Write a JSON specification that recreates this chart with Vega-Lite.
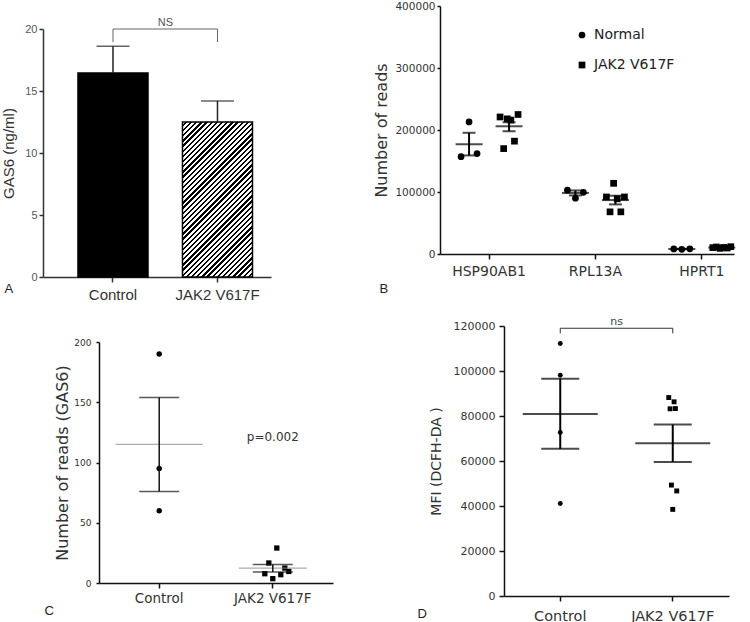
{
  "$schema": "https://vega.github.io/schema/vega-lite/v6.json",
  "padding": {"left": 1, "top": 1, "right": 5, "bottom": 0},
  "background": "white",
  "config": {
    "font": "DejaVu Sans",
    "view": {"stroke": null},
    "axis": {"grid": false, "domainWidth": 1.5, "tickWidth": 1.5, "domainColor": "#111", "tickColor": "#111", "labelColor": "#333", "titleColor": "#333", "titleFontWeight": "normal", "labelFont": "DejaVu Sans", "titleFont": "DejaVu Sans"}
  },
  "datasets": {
    "a_bars": [
      {"group": "Control", "mean": 16.45, "hi": 18.6},
      {"group": "JAK2 V617F", "mean": 12.5, "hi": 14.2}
    ],
    "a_sig": [{"group": "Control", "group2": "JAK2 V617F", "top": 20, "label": "NS"}],
    "a_drop": [
      {"group": "Control", "top": 20, "bottom": 18.95},
      {"group": "JAK2 V617F", "top": 20, "bottom": 18.95}
    ],
    "b_pts": [
      {"gene": "HSP90AB1", "group": "Normal", "sample": "N1", "reads": 157000},
      {"gene": "HSP90AB1", "group": "Normal", "sample": "N2", "reads": 213000},
      {"gene": "HSP90AB1", "group": "Normal", "sample": "N3", "reads": 162000},
      {"gene": "HSP90AB1", "group": "JAK2 V617F", "sample": "J1", "reads": 221000},
      {"gene": "HSP90AB1", "group": "JAK2 V617F", "sample": "J2", "reads": 170000},
      {"gene": "HSP90AB1", "group": "JAK2 V617F", "sample": "J3", "reads": 218000},
      {"gene": "HSP90AB1", "group": "JAK2 V617F", "sample": "J4", "reads": 216000},
      {"gene": "HSP90AB1", "group": "JAK2 V617F", "sample": "J5", "reads": 182000},
      {"gene": "HSP90AB1", "group": "JAK2 V617F", "sample": "J6", "reads": 225000},
      {"gene": "RPL13A", "group": "Normal", "sample": "N1", "reads": 103000},
      {"gene": "RPL13A", "group": "Normal", "sample": "N2", "reads": 90000},
      {"gene": "RPL13A", "group": "Normal", "sample": "N3", "reads": 99500},
      {"gene": "RPL13A", "group": "JAK2 V617F", "sample": "J1", "reads": 92000},
      {"gene": "RPL13A", "group": "JAK2 V617F", "sample": "J2", "reads": 68000},
      {"gene": "RPL13A", "group": "JAK2 V617F", "sample": "J3", "reads": 114000},
      {"gene": "RPL13A", "group": "JAK2 V617F", "sample": "J4", "reads": 89000},
      {"gene": "RPL13A", "group": "JAK2 V617F", "sample": "J5", "reads": 68000},
      {"gene": "RPL13A", "group": "JAK2 V617F", "sample": "J6", "reads": 92000},
      {"gene": "HPRT1", "group": "Normal", "sample": "N1", "reads": 8200},
      {"gene": "HPRT1", "group": "Normal", "sample": "N2", "reads": 7600},
      {"gene": "HPRT1", "group": "Normal", "sample": "N3", "reads": 8400},
      {"gene": "HPRT1", "group": "JAK2 V617F", "sample": "J1", "reads": 10200},
      {"gene": "HPRT1", "group": "JAK2 V617F", "sample": "J2", "reads": 11300},
      {"gene": "HPRT1", "group": "JAK2 V617F", "sample": "J3", "reads": 9100},
      {"gene": "HPRT1", "group": "JAK2 V617F", "sample": "J4", "reads": 10600},
      {"gene": "HPRT1", "group": "JAK2 V617F", "sample": "J5", "reads": 9600},
      {"gene": "HPRT1", "group": "JAK2 V617F", "sample": "J6", "reads": 11800}
    ],
    "b_sum": [
      {"gene": "HSP90AB1", "group": "Normal", "mean": 177000, "lo": 159000, "hi": 195500},
      {"gene": "HSP90AB1", "group": "JAK2 V617F", "mean": 206000, "lo": 198000, "hi": 212500},
      {"gene": "RPL13A", "group": "Normal", "mean": 98500, "lo": 94500, "hi": 102500},
      {"gene": "RPL13A", "group": "JAK2 V617F", "mean": 87000, "lo": 80000, "hi": 94000},
      {"gene": "HPRT1", "group": "Normal", "mean": 8100, "lo": 7800, "hi": 8400},
      {"gene": "HPRT1", "group": "JAK2 V617F", "mean": 10400, "lo": 10000, "hi": 10800}
    ],
    "c_pts": [
      {"group": "Control", "sample": "C1", "reads": 190},
      {"group": "Control", "sample": "C2", "reads": 95},
      {"group": "Control", "sample": "C3", "reads": 60},
      {"group": "JAK2 V617F", "sample": "S1", "reads": 7.7},
      {"group": "JAK2 V617F", "sample": "S2", "reads": 16.6},
      {"group": "JAK2 V617F", "sample": "S3", "reads": 3.6},
      {"group": "JAK2 V617F", "sample": "S4", "reads": 29},
      {"group": "JAK2 V617F", "sample": "S5", "reads": 6.9},
      {"group": "JAK2 V617F", "sample": "S6", "reads": 12.4},
      {"group": "JAK2 V617F", "sample": "S7", "reads": 9.6}
    ],
    "c_sum": [
      {"group": "Control", "mean": 115, "lo": 76, "hi": 154},
      {"group": "JAK2 V617F", "mean": 12.4, "lo": 9.1, "hi": 15.4}
    ],
    "c_note": [{"group": "JAK2 V617F", "y": 121.5, "label": "p=0.002"}],
    "d_pts": [
      {"group": "Control", "sample": "C1", "mfi": 112200},
      {"group": "Control", "sample": "C2", "mfi": 98100},
      {"group": "Control", "sample": "C3", "mfi": 72700},
      {"group": "Control", "sample": "C4", "mfi": 41100},
      {"group": "JAK2 V617F", "sample": "J1", "mfi": 88200},
      {"group": "JAK2 V617F", "sample": "J2", "mfi": 86300},
      {"group": "JAK2 V617F", "sample": "J3", "mfi": 83200},
      {"group": "JAK2 V617F", "sample": "J4", "mfi": 83300},
      {"group": "JAK2 V617F", "sample": "J5", "mfi": 49300},
      {"group": "JAK2 V617F", "sample": "J6", "mfi": 46700},
      {"group": "JAK2 V617F", "sample": "J7", "mfi": 38500}
    ],
    "d_sum": [
      {"group": "Control", "mean": 80900, "lo": 65400, "hi": 96600},
      {"group": "JAK2 V617F", "mean": 67900, "lo": 59600, "hi": 76200}
    ],
    "d_sig": [{"group": "Control", "group2": "JAK2 V617F", "top": 119000, "label": "ns"}],
    "d_drop": [
      {"group": "Control", "top": 119000, "bottom": 116700},
      {"group": "JAK2 V617F", "top": 119000, "bottom": 116700}
    ]
  },
  "spacing": 14,
  "vconcat": [
    {
      "spacing": 102,
      "hconcat": [
        {
          "spacing": 7,
          "vconcat": [
            {"width": 10, "height": 4, "data": {"values": []}, "mark": "point"},
            {
              "width": 228,
              "height": 248,
              "encoding": {
                "x": {"field": "group", "type": "nominal",
                  "scale": {"domain": ["Control", "JAK2 V617F"], "paddingInner": 0.33, "paddingOuter": 0.256, "align": 0.654},
                  "axis": {"title": "A", "titleX": -39, "titleY": 15, "titleAlign": "left", "titleBaseline": "alphabetic", "titleAngle": 0, "titleFont": "Liberation Sans", "titleFontSize": 13, "titleColor": "#222", "labelAngle": 0, "labelFont": "Liberation Sans", "labelFontSize": 15, "labelColor": "#333", "labelPadding": 5, "tickSize": 5, "domainColor": "#333", "tickColor": "#333"}},
                "y": {"field": "mean", "type": "quantitative",
                  "scale": {"domain": [0, 20], "nice": false},
                  "axis": {"title": "GAS6 (ng/ml)", "values": [0, 5, 10, 15, 20], "titleFont": "Liberation Sans", "titleFontSize": 15, "titleColor": "#333", "titlePadding": 8, "labelFont": "Liberation Sans", "labelFontSize": 11, "labelColor": "#555", "labelPadding": 2, "tickSize": 4, "domainColor": "#333", "tickColor": "#333"}}
              },
              "layer": [
                {"data": {"name": "a_bars"}, "transform": [{"filter": "datum.group === 'Control'"}],
                  "mark": {"type": "bar", "fill": "#000", "stroke": "#000", "strokeWidth": 1.5}},
                {"data": {"name": "a_bars"}, "transform": [{"filter": "datum.group !== 'Control'"}],
                  "mark": {"type": "bar", "stroke": "#000", "strokeWidth": 1.5,
                    "fill": {"gradient": "linear", "x1": 0, "y1": 0, "x2": 1, "y2": 2.214, "stops": [
{"offset":0,"color":"#fff"},{"offset":0.0069,"color":"#fff"},{"offset":0.0069,"color":"#000"},{"offset":0.0125,"color":"#000"},
{"offset":0.0125,"color":"#fff"},{"offset":0.0194,"color":"#fff"},{"offset":0.0194,"color":"#000"},{"offset":0.025,"color":"#000"},
{"offset":0.025,"color":"#fff"},{"offset":0.0319,"color":"#fff"},{"offset":0.0319,"color":"#000"},{"offset":0.0375,"color":"#000"},
{"offset":0.0375,"color":"#fff"},{"offset":0.0444,"color":"#fff"},{"offset":0.0444,"color":"#000"},{"offset":0.05,"color":"#000"},
{"offset":0.05,"color":"#fff"},{"offset":0.0569,"color":"#fff"},{"offset":0.0569,"color":"#000"},{"offset":0.0625,"color":"#000"},
{"offset":0.0625,"color":"#fff"},{"offset":0.0694,"color":"#fff"},{"offset":0.0694,"color":"#000"},{"offset":0.075,"color":"#000"},
{"offset":0.075,"color":"#fff"},{"offset":0.0819,"color":"#fff"},{"offset":0.0819,"color":"#000"},{"offset":0.0875,"color":"#000"},
{"offset":0.0875,"color":"#fff"},{"offset":0.0944,"color":"#fff"},{"offset":0.0944,"color":"#000"},{"offset":0.1,"color":"#000"},
{"offset":0.1,"color":"#fff"},{"offset":0.1069,"color":"#fff"},{"offset":0.1069,"color":"#000"},{"offset":0.1125,"color":"#000"},
{"offset":0.1125,"color":"#fff"},{"offset":0.1194,"color":"#fff"},{"offset":0.1194,"color":"#000"},{"offset":0.125,"color":"#000"},
{"offset":0.125,"color":"#fff"},{"offset":0.1319,"color":"#fff"},{"offset":0.1319,"color":"#000"},{"offset":0.1375,"color":"#000"},
{"offset":0.1375,"color":"#fff"},{"offset":0.1444,"color":"#fff"},{"offset":0.1444,"color":"#000"},{"offset":0.15,"color":"#000"},
{"offset":0.15,"color":"#fff"},{"offset":0.1569,"color":"#fff"},{"offset":0.1569,"color":"#000"},{"offset":0.1625,"color":"#000"},
{"offset":0.1625,"color":"#fff"},{"offset":0.1694,"color":"#fff"},{"offset":0.1694,"color":"#000"},{"offset":0.175,"color":"#000"},
{"offset":0.175,"color":"#fff"},{"offset":0.1819,"color":"#fff"},{"offset":0.1819,"color":"#000"},{"offset":0.1875,"color":"#000"},
{"offset":0.1875,"color":"#fff"},{"offset":0.1944,"color":"#fff"},{"offset":0.1944,"color":"#000"},{"offset":0.2,"color":"#000"},
{"offset":0.2,"color":"#fff"},{"offset":0.2069,"color":"#fff"},{"offset":0.2069,"color":"#000"},{"offset":0.2125,"color":"#000"},
{"offset":0.2125,"color":"#fff"},{"offset":0.2194,"color":"#fff"},{"offset":0.2194,"color":"#000"},{"offset":0.225,"color":"#000"},
{"offset":0.225,"color":"#fff"},{"offset":0.2319,"color":"#fff"},{"offset":0.2319,"color":"#000"},{"offset":0.2375,"color":"#000"},
{"offset":0.2375,"color":"#fff"},{"offset":0.2444,"color":"#fff"},{"offset":0.2444,"color":"#000"},{"offset":0.25,"color":"#000"},
{"offset":0.25,"color":"#fff"},{"offset":0.2569,"color":"#fff"},{"offset":0.2569,"color":"#000"},{"offset":0.2625,"color":"#000"},
{"offset":0.2625,"color":"#fff"},{"offset":0.2694,"color":"#fff"},{"offset":0.2694,"color":"#000"},{"offset":0.275,"color":"#000"},
{"offset":0.275,"color":"#fff"},{"offset":0.2819,"color":"#fff"},{"offset":0.2819,"color":"#000"},{"offset":0.2875,"color":"#000"},
{"offset":0.2875,"color":"#fff"},{"offset":0.2944,"color":"#fff"},{"offset":0.2944,"color":"#000"},{"offset":0.3,"color":"#000"},
{"offset":0.3,"color":"#fff"},{"offset":0.3069,"color":"#fff"},{"offset":0.3069,"color":"#000"},{"offset":0.3125,"color":"#000"},
{"offset":0.3125,"color":"#fff"},{"offset":0.3194,"color":"#fff"},{"offset":0.3194,"color":"#000"},{"offset":0.325,"color":"#000"},
{"offset":0.325,"color":"#fff"},{"offset":0.3319,"color":"#fff"},{"offset":0.3319,"color":"#000"},{"offset":0.3375,"color":"#000"},
{"offset":0.3375,"color":"#fff"},{"offset":0.3444,"color":"#fff"},{"offset":0.3444,"color":"#000"},{"offset":0.35,"color":"#000"},
{"offset":0.35,"color":"#fff"},{"offset":0.3569,"color":"#fff"},{"offset":0.3569,"color":"#000"},{"offset":0.3625,"color":"#000"},
{"offset":0.3625,"color":"#fff"},{"offset":0.3694,"color":"#fff"},{"offset":0.3694,"color":"#000"},{"offset":0.375,"color":"#000"},
{"offset":0.375,"color":"#fff"},{"offset":0.3819,"color":"#fff"},{"offset":0.3819,"color":"#000"},{"offset":0.3875,"color":"#000"},
{"offset":0.3875,"color":"#fff"},{"offset":0.3944,"color":"#fff"},{"offset":0.3944,"color":"#000"},{"offset":0.4,"color":"#000"},
{"offset":0.4,"color":"#fff"},{"offset":0.4069,"color":"#fff"},{"offset":0.4069,"color":"#000"},{"offset":0.4125,"color":"#000"},
{"offset":0.4125,"color":"#fff"},{"offset":0.4194,"color":"#fff"},{"offset":0.4194,"color":"#000"},{"offset":0.425,"color":"#000"},
{"offset":0.425,"color":"#fff"},{"offset":0.4319,"color":"#fff"},{"offset":0.4319,"color":"#000"},{"offset":0.4375,"color":"#000"},
{"offset":0.4375,"color":"#fff"},{"offset":0.4444,"color":"#fff"},{"offset":0.4444,"color":"#000"},{"offset":0.45,"color":"#000"},
{"offset":0.45,"color":"#fff"},{"offset":0.4569,"color":"#fff"},{"offset":0.4569,"color":"#000"},{"offset":0.4625,"color":"#000"},
{"offset":0.4625,"color":"#fff"},{"offset":0.4694,"color":"#fff"},{"offset":0.4694,"color":"#000"},{"offset":0.475,"color":"#000"},
{"offset":0.475,"color":"#fff"},{"offset":0.4819,"color":"#fff"},{"offset":0.4819,"color":"#000"},{"offset":0.4875,"color":"#000"},
{"offset":0.4875,"color":"#fff"},{"offset":0.4944,"color":"#fff"},{"offset":0.4944,"color":"#000"},{"offset":0.5,"color":"#000"},
{"offset":0.5,"color":"#fff"},{"offset":0.5069,"color":"#fff"},{"offset":0.5069,"color":"#000"},{"offset":0.5125,"color":"#000"},
{"offset":0.5125,"color":"#fff"},{"offset":0.5194,"color":"#fff"},{"offset":0.5194,"color":"#000"},{"offset":0.525,"color":"#000"},
{"offset":0.525,"color":"#fff"},{"offset":0.5319,"color":"#fff"},{"offset":0.5319,"color":"#000"},{"offset":0.5375,"color":"#000"},
{"offset":0.5375,"color":"#fff"},{"offset":0.5444,"color":"#fff"},{"offset":0.5444,"color":"#000"},{"offset":0.55,"color":"#000"},
{"offset":0.55,"color":"#fff"},{"offset":0.5569,"color":"#fff"},{"offset":0.5569,"color":"#000"},{"offset":0.5625,"color":"#000"}
                    ]}}},
                {"data": {"name": "a_bars"}, "mark": {"type": "rule", "color": "#222", "strokeWidth": 1.5},
                  "encoding": {"y": {"field": "mean", "type": "quantitative"}, "y2": {"field": "hi"}}},
                {"data": {"name": "a_bars"}, "mark": {"type": "tick", "color": "#222", "thickness": 1.5, "size": 33},
                  "encoding": {"y": {"field": "hi", "type": "quantitative"}}},
                {"data": {"name": "a_drop"}, "mark": {"type": "rule", "color": "#666", "strokeWidth": 1},
                  "encoding": {"y": {"field": "bottom", "type": "quantitative"}, "y2": {"field": "top"}}},
                {"data": {"name": "a_sig"}, "mark": {"type": "rule", "color": "#666", "strokeWidth": 1},
                  "encoding": {"y": {"field": "top", "type": "quantitative"}, "x2": {"field": "group2"}}},
                {"data": {"name": "a_sig"}, "mark": {"type": "text", "font": "Liberation Sans", "fontSize": 11, "color": "#555", "baseline": "bottom", "dy": -1},
                  "encoding": {"x": {"field": "group", "type": "nominal", "bandPosition": 1.25}, "y": {"field": "top", "type": "quantitative"}, "text": {"field": "label"}}}
              ]
            }
          ]
        },
        {
          "width": 294,
          "height": 248,
          "encoding": {
            "x": {"field": "gene", "type": "nominal",
              "scale": {"domain": ["HSP90AB1", "RPL13A", "HPRT1"], "paddingInner": 0.5, "paddingOuter": 0.132, "align": 0.8},
              "axis": {"title": "B", "titleX": -61, "titleY": 38, "titleAlign": "left", "titleBaseline": "alphabetic", "titleAngle": 0, "titleFont": "Liberation Sans", "titleFontSize": 13, "titleColor": "#222", "labelAngle": 0, "labelFontSize": 14, "labelPadding": 5, "tickSize": 5}},
            "y": {"field": "reads", "type": "quantitative",
              "scale": {"domain": [0, 400000], "nice": false},
              "axis": {"title": "Number of reads", "values": [0, 100000, 200000, 300000, 400000], "format": "d", "labelFontSize": 10.5, "tickSize": 3, "labelPadding": 2, "titleFontSize": 16, "titlePadding": 5}}
          },
          "layer": [
            {"data": {"name": "b_pts"}, "transform": [{"filter": "datum.group === 'Normal'"}],
              "mark": {"type": "point", "filled": true, "color": "#000", "size": 45, "opacity": 1},
              "encoding": {
                "xOffset": {"field": "sample", "type": "nominal", "scale": {"type": "point", "domain": ["N1", "N2", "N3"], "range": [-1.4, 14.6], "padding": 0}},
                "shape": {"field": "group", "type": "nominal", "scale": {"domain": ["Normal", "JAK2 V617F"], "range": ["circle", "square"]},
                  "legend": {"orient": "none", "legendX": 532, "legendY": 22, "title": null, "labelFontSize": 14, "labelColor": "#222", "symbolSize": 45, "symbolFillColor": "#000", "symbolStrokeColor": "#000", "rowPadding": 16, "labelOffset": 5, "padding": 0}}
              }},
            {"data": {"name": "b_pts"}, "transform": [{"filter": "datum.group !== 'Normal'"}],
              "mark": {"type": "point", "filled": true, "color": "#000", "size": 45, "opacity": 1},
              "encoding": {
                "xOffset": {"field": "sample", "type": "nominal", "scale": {"type": "point", "domain": ["J1", "J2", "J3", "J4", "J5", "J6"], "range": [37.6, 55.6], "padding": 0}},
                "shape": {"field": "group", "type": "nominal"}
              }},
            {"data": {"name": "b_sum"}, "mark": {"type": "tick", "color": "#000", "thickness": 2, "size": 27},
              "encoding": {"xOffset": {"field": "group", "type": "nominal", "scale": {"type": "point", "domain": ["Normal", "JAK2 V617F"], "range": [6.6, 46.6], "padding": 0}}, "y": {"field": "mean", "type": "quantitative"}}},
            {"data": {"name": "b_sum"}, "mark": {"type": "rule", "color": "#000", "strokeWidth": 2},
              "encoding": {"xOffset": {"field": "group", "type": "nominal", "scale": {"type": "point", "domain": ["Normal", "JAK2 V617F"], "range": [6.6, 46.6], "padding": 0}}, "y": {"field": "lo", "type": "quantitative"}, "y2": {"field": "hi"}}},
            {"data": {"name": "b_sum"}, "mark": {"type": "tick", "color": "#000", "thickness": 2, "size": 13},
              "encoding": {"xOffset": {"field": "group", "type": "nominal", "scale": {"type": "point", "domain": ["Normal", "JAK2 V617F"], "range": [6.6, 46.6], "padding": 0}}, "y": {"field": "lo", "type": "quantitative"}}},
            {"data": {"name": "b_sum"}, "mark": {"type": "tick", "color": "#000", "thickness": 2, "size": 13},
              "encoding": {"xOffset": {"field": "group", "type": "nominal", "scale": {"type": "point", "domain": ["Normal", "JAK2 V617F"], "range": [6.6, 46.6], "padding": 0}}, "y": {"field": "hi", "type": "quantitative"}}}
          ],
          "resolve": {"scale": {"xOffset": "independent"}}
        }
      ]
    },
    {
      "spacing": 0,
      "hconcat": [
        {"width": 1, "height": 4, "data": {"values": []}, "mark": "point"},
        {
          "spacing": 8,
          "vconcat": [
            {"width": 10, "height": 4, "data": {"values": []}, "mark": "point"},
            {
              "width": 234,
              "height": 241,
              "encoding": {
                "x": {"field": "group", "type": "nominal",
                  "scale": {"domain": ["Control", "JAK2 V617F"], "paddingInner": 0, "paddingOuter": 0.03},
                  "axis": {"title": "C", "titleX": -55, "titleY": 31, "titleAlign": "left", "titleBaseline": "alphabetic", "titleAngle": 0, "titleFont": "Liberation Sans", "titleFontSize": 13, "titleColor": "#222", "labelAngle": 0, "labelFontSize": 13.5, "labelPadding": 3, "tickSize": 5}},
                "y": {"field": "reads", "type": "quantitative",
                  "scale": {"domain": [0, 200], "nice": false},
                  "axis": {"title": "Number of reads (GAS6)", "values": [0, 50, 100, 150, 200], "labelFontSize": 9, "tickSize": 3, "labelPadding": 5, "titleFontSize": 16, "titlePadding": 3}}
              },
              "layer": [
                {"data": {"name": "c_pts"}, "transform": [{"filter": "datum.group === 'Control'"}],
                  "mark": {"type": "point", "shape": "circle", "filled": true, "color": "#000", "size": 30, "opacity": 1}},
                {"data": {"name": "c_pts"}, "transform": [{"filter": "datum.group !== 'Control'"}],
                  "mark": {"type": "point", "shape": "square", "filled": true, "color": "#000", "size": 28, "opacity": 1},
                  "encoding": {"xOffset": {"field": "sample", "type": "nominal", "scale": {"type": "point", "domain": ["S1", "S2", "S3", "S4", "S5", "S6", "S7"], "range": [48.8, 72.8], "padding": 0}}}},
                {"data": {"name": "c_sum"}, "transform": [{"filter": "datum.group === 'Control'"}],
                  "mark": {"type": "tick", "color": "#888", "thickness": 1.2, "size": 87},
                  "encoding": {"y": {"field": "mean", "type": "quantitative"}}},
                {"data": {"name": "c_sum"}, "transform": [{"filter": "datum.group !== 'Control'"}],
                  "mark": {"type": "tick", "color": "#888", "thickness": 1.2, "size": 68},
                  "encoding": {"y": {"field": "mean", "type": "quantitative"}}},
                {"data": {"name": "c_sum"}, "mark": {"type": "rule", "color": "#111", "strokeWidth": 1.5},
                  "encoding": {"y": {"field": "lo", "type": "quantitative"}, "y2": {"field": "hi"}}},
                {"data": {"name": "c_sum"}, "mark": {"type": "tick", "color": "#111", "thickness": 1.5, "size": 40},
                  "encoding": {"y": {"field": "lo", "type": "quantitative"}}},
                {"data": {"name": "c_sum"}, "mark": {"type": "tick", "color": "#111", "thickness": 1.5, "size": 40},
                  "encoding": {"y": {"field": "hi", "type": "quantitative"}}},
                {"data": {"name": "c_note"}, "mark": {"type": "text", "fontSize": 12, "color": "#333", "baseline": "middle"},
                  "encoding": {"y": {"field": "y", "type": "quantitative"}, "text": {"field": "label"}}}
              ],
              "resolve": {"scale": {"xOffset": "independent"}}
            }
          ]
        },
        {"width": 84, "height": 4, "data": {"values": []}, "mark": "point"},
        {
          "width": 225,
          "height": 270,
          "encoding": {
            "x": {"field": "group", "type": "nominal",
              "scale": {"domain": ["Control", "JAK2 V617F"], "paddingInner": 0, "paddingOuter": 0},
              "axis": {"title": "D", "titleX": -87, "titleY": 21, "titleAlign": "left", "titleBaseline": "alphabetic", "titleAngle": 0, "titleFont": "Liberation Sans", "titleFontSize": 13, "titleColor": "#222", "labelAngle": 0, "labelFontSize": 14.5, "labelPadding": 8, "tickSize": 5}},
            "y": {"field": "mfi", "type": "quantitative",
              "scale": {"domain": [0, 120000], "nice": false},
              "axis": {"title": "MFI (DCFH-DA )", "values": [0, 20000, 40000, 60000, 80000, 100000, 120000], "format": "d", "labelFontSize": 11, "tickSize": 5, "labelPadding": 4, "titleFontSize": 14, "titlePadding": 10}}
          },
          "layer": [
            {"data": {"name": "d_pts"}, "transform": [{"filter": "datum.group === 'Control'"}],
              "mark": {"type": "point", "shape": "circle", "filled": true, "color": "#000", "size": 24, "opacity": 1}},
            {"data": {"name": "d_pts"}, "transform": [{"filter": "datum.group !== 'Control'"}],
              "mark": {"type": "point", "shape": "square", "filled": true, "color": "#000", "size": 24, "opacity": 1},
              "encoding": {"xOffset": {"field": "sample", "type": "nominal", "scale": {"type": "point", "domain": ["J1", "J3", "J5", "J7", "J2", "J4", "J6"], "range": [52.25, 60.25], "padding": 0}}}},
            {"data": {"name": "d_sum"}, "mark": {"type": "tick", "color": "#000", "thickness": 2, "size": 75},
              "encoding": {"y": {"field": "mean", "type": "quantitative"}}},
            {"data": {"name": "d_sum"}, "mark": {"type": "rule", "color": "#000", "strokeWidth": 2},
              "encoding": {"y": {"field": "lo", "type": "quantitative"}, "y2": {"field": "hi"}}},
            {"data": {"name": "d_sum"}, "mark": {"type": "tick", "color": "#000", "thickness": 2, "size": 38},
              "encoding": {"y": {"field": "lo", "type": "quantitative"}}},
            {"data": {"name": "d_sum"}, "mark": {"type": "tick", "color": "#000", "thickness": 2, "size": 38},
              "encoding": {"y": {"field": "hi", "type": "quantitative"}}},
            {"data": {"name": "d_drop"}, "mark": {"type": "rule", "color": "#333", "strokeWidth": 1},
              "encoding": {"y": {"field": "bottom", "type": "quantitative"}, "y2": {"field": "top"}}},
            {"data": {"name": "d_sig"}, "mark": {"type": "rule", "color": "#333", "strokeWidth": 1},
              "encoding": {"y": {"field": "top", "type": "quantitative"}, "x2": {"field": "group2"}}},
            {"data": {"name": "d_sig"}, "mark": {"type": "text", "fontSize": 11, "color": "#444", "baseline": "bottom", "dy": -1},
              "encoding": {"x": {"field": "group", "type": "nominal", "bandPosition": 1}, "y": {"field": "top", "type": "quantitative"}, "text": {"field": "label"}}}
          ],
          "resolve": {"scale": {"xOffset": "independent"}}
        }
      ]
    }
  ]
}
